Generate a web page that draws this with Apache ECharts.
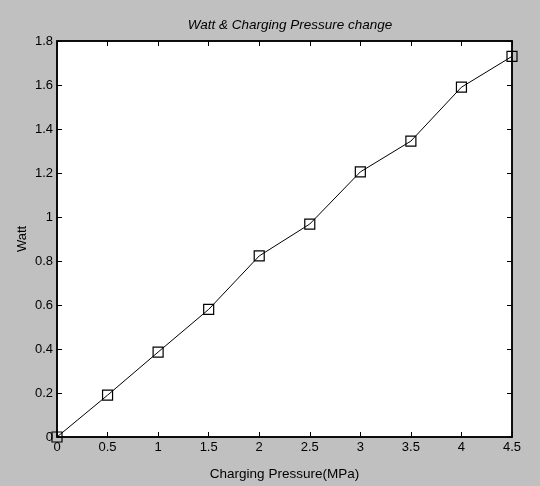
<!DOCTYPE html>
<html>
<head>
<meta charset="utf-8">
<script src="https://cdn.jsdelivr.net/npm/echarts@6/dist/echarts.min.js"></script>
<style>
  html, body { margin: 0; padding: 0; background: #c0c0c0; }
  #chart { width: 540px; height: 486px; }
</style>
</head>
<body>
<div id="chart"></div>
<script>
// Charging pressure (MPa) against output power (W)
const pressure = [0, 0.5, 1, 1.5, 2, 2.5, 3, 3.5, 4, 4.5];
const watt = [0, 0.19, 0.386, 0.58, 0.823, 0.968, 1.205, 1.345, 1.59, 1.73];

const font = '"Liberation Sans", Arial, sans-serif';
const chart = echarts.init(document.getElementById('chart'));

// inward-pointing ticks on every side of the box
function ticks() {
  return { show: true, inside: true, length: 5, lineStyle: { color: '#000', width: 1 } };
}
function line() {
  return { show: true, onZero: false, lineStyle: { color: '#000', width: 1.5 } };
}

chart.setOption({
  backgroundColor: '#c0c0c0',
  animation: false,
  title: {
    text: 'Watt & Charging Pressure change',
    left: 285, top: 13, textAlign: 'center',
    textStyle: { fontFamily: font, fontSize: 13.5, fontStyle: 'italic', fontWeight: 'normal', color: '#000' }
  },
  grid: { left: 57, right: 28, top: 41, bottom: 49, show: true, backgroundColor: '#fff', borderColor: '#000', borderWidth: 1.5 },
  xAxis: [{
    type: 'value', min: 0, max: 4.5, interval: 0.5,
    name: 'Charging Pressure(MPa)', nameLocation: 'middle', nameGap: 30,
    nameTextStyle: { fontFamily: font, fontSize: 13.5, color: '#000' },
    axisLine: line(),
    axisTick: ticks(),
    splitLine: { show: false },
    axisLabel: { fontFamily: font, fontSize: 13, color: '#000', margin: 4 }
  }, {
    type: 'value', min: 0, max: 4.5, interval: 0.5, position: 'top',
    axisLine: line(),
    axisTick: ticks(), axisLabel: { show: false }, splitLine: { show: false }
  }],
  yAxis: [{
    type: 'value', min: 0, max: 1.8, interval: 0.2,
    name: 'Watt', nameLocation: 'middle', nameGap: 28, nameRotate: 90,
    nameMoveOverlap: false,
    nameTextStyle: { fontFamily: font, fontSize: 13, color: '#000' },
    axisLine: line(),
    axisTick: ticks(),
    splitLine: { show: false },
    axisLabel: { fontFamily: font, fontSize: 13, color: '#000', margin: 4,
      formatter: v => String(Math.round(v * 10) / 10) }
  }, {
    type: 'value', min: 0, max: 1.8, interval: 0.2, position: 'right',
    axisLine: line(),
    axisTick: ticks(), axisLabel: { show: false }, splitLine: { show: false }
  }],
  series: [{
    type: 'line',
    data: pressure.map((p, i) => [p, watt[i]]),
    symbol: 'rect', symbolSize: 10,
    showAllSymbol: true,
    clip: false,
    lineStyle: { color: '#000', width: 1 },
    itemStyle: { color: 'rgba(255,255,255,0)', borderColor: '#000', borderWidth: 1.2 },
    z: 5
  }]
});
</script>
</body>
</html>
